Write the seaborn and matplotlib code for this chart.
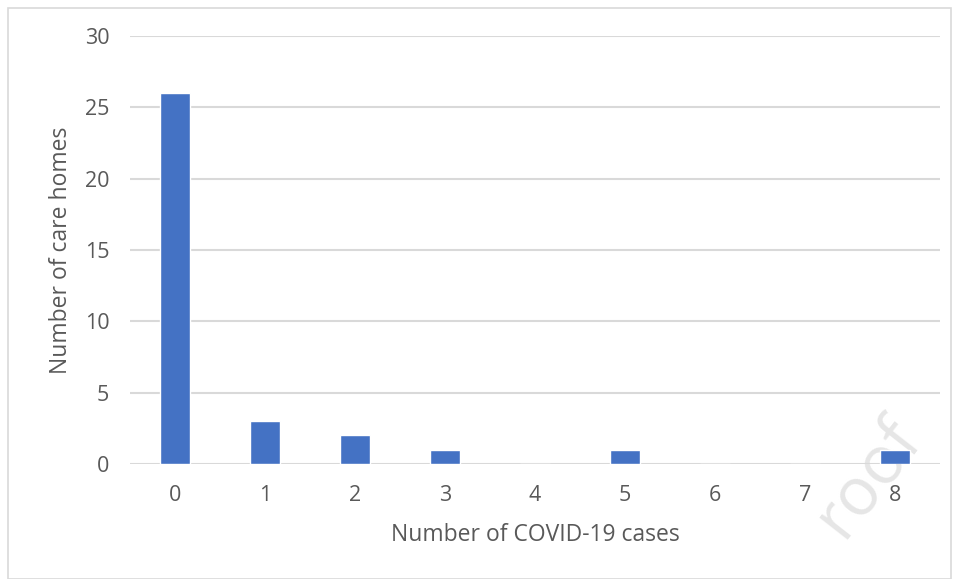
import matplotlib
matplotlib.use("Agg")
import matplotlib.pyplot as plt
import seaborn as sns
import pandas as pd
from matplotlib.patches import Rectangle

cases = ["0", "1", "2", "3", "4", "5", "6", "7", "8"]
care_homes = [26, 3, 2, 1, 0, 1, 0, 0, 1]
y_ticks = [0, 5, 10, 15, 20, 25, 30]

sns.set_style("white")
plt.rcParams["font.family"] = ["Open Sans", "DejaVu Sans"]

df = pd.DataFrame({"cases": cases, "homes": care_homes})

fig = plt.figure(figsize=(9.59, 5.79), dpi=100)

# watermark (behind the chart)
fig.text(0.905, 0.175, "roof", fontsize=48, color="#e6e6e6", rotation=52,
         ha="center", va="center", zorder=0)

ax = fig.add_axes([0.1356, 0.1986, 0.8444, 0.7392])
ax.set_zorder(2)
ax.patch.set_alpha(0)

sns.barplot(data=df, x="cases", y="homes", color="#4472C4", width=0.33,
            saturation=1, ax=ax, zorder=3)

ax.set_ylim(0, 30)
ax.set_xlim(-0.5, 8.5)
ax.set_yticks(y_ticks)
ax.yaxis.grid(True, color="#d9d9d9", linewidth=1.5, zorder=0)
ax.xaxis.grid(False)
for s in ax.spines.values():
    s.set_visible(False)
ax.tick_params(axis="both", length=0, labelsize=15.5, colors="#595959")
ax.tick_params(axis="x", pad=15)
ax.tick_params(axis="y", pad=15)
ax.set_xlabel("Number of COVID-19 cases", fontsize=16.5, color="#595959", labelpad=12)
ax.set_ylabel("Number of care homes", fontsize=16.5, color="#595959", labelpad=8)

# outer border
fig.patches.append(Rectangle((8 / 959, 0), 1 - 16 / 959, 1 - 8 / 579,
                             transform=fig.transFigure, fill=False,
                             edgecolor="#d9d9d9", linewidth=1.2))

fig.savefig("out.png", dpi=100)
